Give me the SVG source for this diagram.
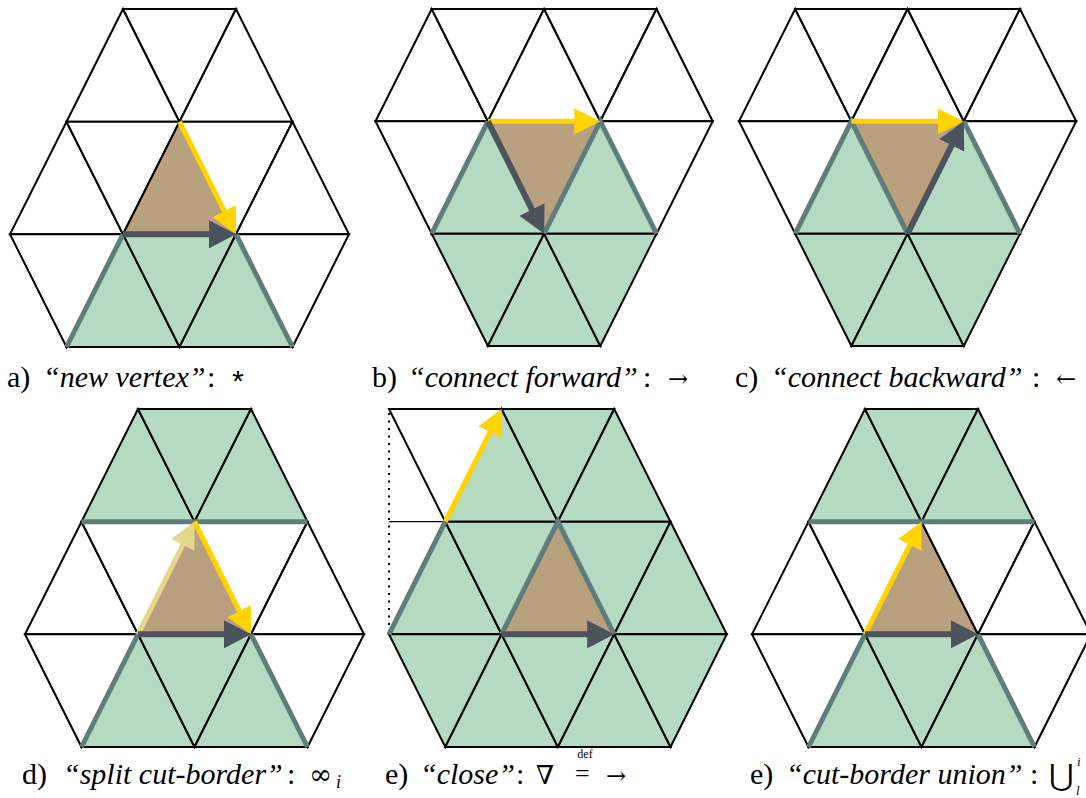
<svg xmlns="http://www.w3.org/2000/svg" width="1086" height="798" viewBox="0 0 1086 798">
<style>
.w{fill:#ffffff;stroke:#000;stroke-width:2}
.g{fill:#b4dac2;stroke:#000;stroke-width:2}
.b{fill:#b9a07e;stroke:#000;stroke-width:2}
.bd{fill:none;stroke:#5f7e7b;stroke-width:5}
.ay{fill:none;stroke:#ffd400;stroke-width:5;marker-end:url(#hy)}
.al{fill:none;stroke:#e4d68b;stroke-width:5;marker-end:url(#hl)}
.ad{fill:none;stroke:#4b545c;stroke-width:6;marker-end:url(#hd)}
</style>
<defs>
<marker id="hy" markerUnits="userSpaceOnUse" markerWidth="26" markerHeight="26" refX="16" refY="13" orient="auto"><path d="M0,0 L26,13 L0,26 z" fill="#ffd400"/></marker>
<marker id="hl" markerUnits="userSpaceOnUse" markerWidth="26" markerHeight="26" refX="16" refY="13" orient="auto"><path d="M0,0 L26,13 L0,26 z" fill="#e4d68b"/></marker>
<marker id="hd" markerUnits="userSpaceOnUse" markerWidth="27" markerHeight="28" refX="17" refY="14" orient="auto"><path d="M0,0 L27,14 L0,28 z" fill="#4b545c"/></marker>
</defs>
<rect width="1086" height="798" fill="#fff"/>

<g id="panel-a">
<polygon class="w" points="123,9 66.5,121.7 179.5,121.7"/>
<polygon class="w" points="123,9 236,9 179.5,121.7"/>
<polygon class="w" points="236,9 179.5,121.7 292.5,121.7"/>
<polygon class="w" points="66.5,121.7 10,234.3 123,234.3"/>
<polygon class="w" points="66.5,121.7 179.5,121.7 123,234.3"/>
<polygon class="b" points="179.5,121.7 123,234.3 236,234.3"/>
<polygon class="w" points="179.5,121.7 292.5,121.7 236,234.3"/>
<polygon class="w" points="292.5,121.7 236,234.3 349,234.3"/>
<polygon class="w" points="10,234.3 123,234.3 66.5,347"/>
<polygon class="g" points="123,234.3 66.5,347 179.5,347"/>
<polygon class="g" points="123,234.3 236,234.3 179.5,347"/>
<polygon class="g" points="236,234.3 179.5,347 292.5,347"/>
<polygon class="w" points="236,234.3 349,234.3 292.5,347"/>
<path class="bd" d="M66.5,347 L123,234.3 M236,234.3 L292.5,347"/>
<text font-family="Liberation Serif, serif" font-size="30" x="7" y="387">a)</text>
<text font-family="Liberation Serif, serif" font-style="italic" font-size="30" x="43" y="387">“new vertex”</text>
<text font-family="Liberation Serif, serif" font-size="30" x="207" y="387">:</text>
<text font-family="Liberation Mono, monospace" font-size="30" x="229" y="393">*</text>
</g>

<g id="panel-b">
<polygon class="w" points="431.7,9 375.5,121.3 487.9,121.3"/>
<polygon class="w" points="431.7,9 544.1,9 487.9,121.3"/>
<polygon class="w" points="544.1,9 487.9,121.3 600.3,121.3"/>
<polygon class="w" points="544.1,9 656.5,9 600.3,121.3"/>
<polygon class="w" points="656.5,9 600.3,121.3 712.7,121.3"/>
<polygon class="w" points="375.5,121.3 487.9,121.3 431.7,233.7"/>
<polygon class="g" points="487.9,121.3 431.7,233.7 544.1,233.7"/>
<polygon class="b" points="487.9,121.3 600.3,121.3 544.1,233.7"/>
<polygon class="g" points="600.3,121.3 544.1,233.7 656.5,233.7"/>
<polygon class="w" points="600.3,121.3 712.7,121.3 656.5,233.7"/>
<polygon class="g" points="431.7,233.7 544.1,233.7 487.9,346"/>
<polygon class="g" points="544.1,233.7 487.9,346 600.3,346"/>
<polygon class="g" points="544.1,233.7 656.5,233.7 600.3,346"/>
<path class="bd" d="M431.7,233.7 L487.9,121.3 M544.1,233.7 L600.3,121.3 L656.5,233.7"/>
<text font-family="Liberation Serif, serif" font-size="30" x="372" y="387">b)</text>
<text font-family="Liberation Serif, serif" font-style="italic" font-size="30" x="408" y="387">“connect forward”</text>
<text font-family="Liberation Serif, serif" font-size="30" x="643" y="387">:</text>
<text font-family="DejaVu Serif, serif" font-size="24" x="668" y="387">→</text>
</g>

<g id="panel-c">
<polygon class="w" points="795.2,9 739,121.3 851.4,121.3"/>
<polygon class="w" points="795.2,9 907.6,9 851.4,121.3"/>
<polygon class="w" points="907.6,9 851.4,121.3 963.8,121.3"/>
<polygon class="w" points="907.6,9 1020,9 963.8,121.3"/>
<polygon class="w" points="1020,9 963.8,121.3 1076.2,121.3"/>
<polygon class="w" points="739,121.3 851.4,121.3 795.2,233.7"/>
<polygon class="g" points="851.4,121.3 795.2,233.7 907.6,233.7"/>
<polygon class="b" points="851.4,121.3 963.8,121.3 907.6,233.7"/>
<polygon class="g" points="963.8,121.3 907.6,233.7 1020,233.7"/>
<polygon class="w" points="963.8,121.3 1076.2,121.3 1020,233.7"/>
<polygon class="g" points="795.2,233.7 907.6,233.7 851.4,346"/>
<polygon class="g" points="907.6,233.7 851.4,346 963.8,346"/>
<polygon class="g" points="907.6,233.7 1020,233.7 963.8,346"/>
<path class="bd" d="M795.2,233.7 L851.4,121.3 L907.6,233.7 M963.8,121.3 L1020,233.7"/>
<text font-family="Liberation Serif, serif" font-size="30" x="735" y="387">c)</text>
<text font-family="Liberation Serif, serif" font-style="italic" font-size="30" x="771" y="387">“connect backward”</text>
<text font-family="Liberation Serif, serif" font-size="30" x="1032" y="387">:</text>
<text font-family="DejaVu Serif, serif" font-size="24" x="1056" y="387">←</text>
</g>

<g id="panel-d">
<polygon class="g" points="138,409 81.5,521.7 194.5,521.7"/>
<polygon class="g" points="138,409 251,409 194.5,521.7"/>
<polygon class="g" points="251,409 194.5,521.7 307.5,521.7"/>
<polygon class="w" points="81.5,521.7 25,634.3 138,634.3"/>
<polygon class="w" points="81.5,521.7 194.5,521.7 138,634.3"/>
<polygon class="b" points="194.5,521.7 138,634.3 251,634.3"/>
<polygon class="w" points="194.5,521.7 307.5,521.7 251,634.3"/>
<polygon class="w" points="307.5,521.7 251,634.3 364,634.3"/>
<polygon class="w" points="25,634.3 138,634.3 81.5,747"/>
<polygon class="g" points="138,634.3 81.5,747 194.5,747"/>
<polygon class="g" points="138,634.3 251,634.3 194.5,747"/>
<polygon class="g" points="251,634.3 194.5,747 307.5,747"/>
<polygon class="w" points="251,634.3 364,634.3 307.5,747"/>
<path class="bd" d="M81.5,521.7 L307.5,521.7 M81.5,747 L138,634.3 M251,634.3 L307.5,747"/>
<text font-family="Liberation Serif, serif" font-size="30" x="22" y="784">d)</text>
<text font-family="Liberation Serif, serif" font-style="italic" font-size="30" x="63" y="784">“split cut-border”</text>
<text font-family="Liberation Serif, serif" font-size="30" x="287" y="784">:</text>
<text font-family="DejaVu Serif, serif" font-size="28" x="309" y="784">∞</text>
<text font-family="Liberation Serif, serif" font-style="italic" font-size="18" x="336" y="788">i</text>
</g>

<g id="panel-e">
<polygon class="w" points="389,409 501.6,409 445.3,521.7"/>
<polygon class="g" points="501.6,409 445.3,521.7 557.9,521.7"/>
<polygon class="g" points="501.6,409 614.2,409 557.9,521.7"/>
<polygon class="g" points="614.2,409 557.9,521.7 670.5,521.7"/>
<polygon class="g" points="445.3,521.7 389,634.3 501.6,634.3"/>
<polygon class="g" points="445.3,521.7 557.9,521.7 501.6,634.3"/>
<polygon class="b" points="557.9,521.7 501.6,634.3 614.2,634.3"/>
<polygon class="g" points="557.9,521.7 670.5,521.7 614.2,634.3"/>
<polygon class="g" points="670.5,521.7 614.2,634.3 726.8,634.3"/>
<polygon class="g" points="389,634.3 501.6,634.3 445.3,747"/>
<polygon class="g" points="501.6,634.3 445.3,747 557.9,747"/>
<polygon class="g" points="501.6,634.3 614.2,634.3 557.9,747"/>
<polygon class="g" points="614.2,634.3 557.9,747 670.5,747"/>
<polygon class="g" points="614.2,634.3 726.8,634.3 670.5,747"/>
<path d="M389,521.7 L445.3,521.7" stroke="#000" stroke-width="1.2" fill="none"/>
<path d="M389,413 L389,632" stroke="#000" stroke-width="2" stroke-dasharray="2 5.5" fill="none"/>
<path class="bd" d="M389,634.3 L445.3,521.7 M501.6,634.3 L557.9,521.7 L614.2,634.3"/>
<text font-family="Liberation Serif, serif" font-size="30" x="385" y="784">e)</text>
<text font-family="Liberation Serif, serif" font-style="italic" font-size="30" x="420" y="784">“close”</text>
<text font-family="Liberation Serif, serif" font-size="30" x="516" y="784">:</text>
<text font-family="DejaVu Serif, serif" font-size="26" x="536" y="784">∇</text>
<text font-family="Liberation Serif, serif" font-size="26" x="575" y="782">=</text>
<text font-family="Liberation Serif, serif" font-size="12" x="585" y="758" text-anchor="middle">def</text>
<text font-family="DejaVu Serif, serif" font-size="24" x="606" y="784">→</text>
</g>

<g id="panel-f">
<polygon class="g" points="865,409 808.5,521.7 921.5,521.7"/>
<polygon class="g" points="865,409 978,409 921.5,521.7"/>
<polygon class="g" points="978,409 921.5,521.7 1034.5,521.7"/>
<polygon class="w" points="808.5,521.7 752,634.3 865,634.3"/>
<polygon class="w" points="808.5,521.7 921.5,521.7 865,634.3"/>
<polygon class="b" points="921.5,521.7 865,634.3 978,634.3"/>
<polygon class="w" points="921.5,521.7 1034.5,521.7 978,634.3"/>
<polygon class="w" points="1034.5,521.7 978,634.3 1091,634.3"/>
<polygon class="w" points="752,634.3 865,634.3 808.5,747"/>
<polygon class="g" points="865,634.3 808.5,747 921.5,747"/>
<polygon class="g" points="865,634.3 978,634.3 921.5,747"/>
<polygon class="g" points="978,634.3 921.5,747 1034.5,747"/>
<polygon class="w" points="978,634.3 1091,634.3 1034.5,747"/>
<path class="bd" d="M808.5,521.7 L1034.5,521.7 M808.5,747 L865,634.3 M978,634.3 L1034.5,747"/>
<text font-family="Liberation Serif, serif" font-size="30" x="750" y="784">e)</text>
<text font-family="Liberation Serif, serif" font-style="italic" font-size="30" x="786" y="784">“cut-border union”</text>
<text font-family="Liberation Serif, serif" font-size="30" x="1030" y="784">:</text>
<text font-family="DejaVu Serif, serif" font-size="30" x="1049" y="786">⋃</text>
<text font-family="Liberation Serif, serif" font-style="italic" font-size="13" x="1077" y="766">i</text>
<text font-family="Liberation Serif, serif" font-style="italic" font-size="13" x="1076" y="795">l</text>
</g>

<g id="connectors">
<path class="ad" d="M123,234.3 L226,234.3"/>
<path class="ay" d="M179.5,121.7 L231.5,225.4"/>
<path class="ay" d="M487.9,121.3 L590.3,121.3"/>
<path class="ad" d="M487.9,121.3 L539.6,224.8"/>
<path class="ay" d="M851.4,121.3 L953.8,121.3"/>
<path class="ad" d="M907.6,233.7 L959.3,130.2"/>
<path class="al" d="M138,634.3 L190,530.6"/>
<path class="ad" d="M138,634.3 L241,634.3"/>
<path class="ay" d="M194.5,521.7 L246.5,625.4"/>
<path class="ay" d="M445.3,521.7 L497.1,417.9"/>
<path class="ad" d="M501.6,634.3 L604.2,634.3"/>
<path class="ay" d="M865,634.3 L917,530.6"/>
<path class="ad" d="M865,634.3 L968,634.3"/>
</g>
</svg>
